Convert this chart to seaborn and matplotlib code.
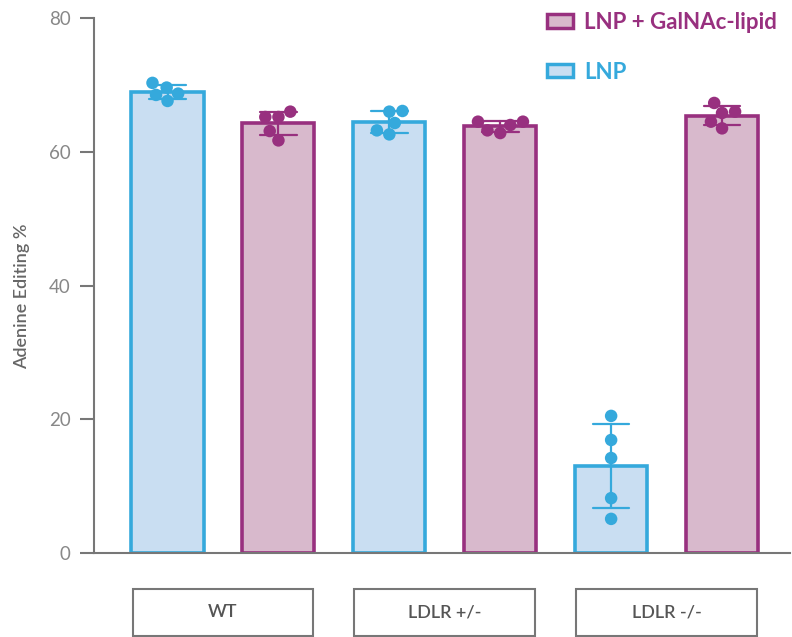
import pandas as pd
import matplotlib.pyplot as plt
import seaborn as sns
from matplotlib.patches import Patch, Rectangle

# значення (по 5 мишей у кожній групі)
genotypes = ['WT', 'LDLR +/-', 'LDLR -/-']
treatments = ['LNP', 'LNP + GalNAc-lipid']
wt_lnp = [70.3, 67.6, 69.6, 68.5, 68.7]
wt_gal = [65.2, 66.0, 61.7, 63.1, 65.2]
het_lnp = [66.1, 66.0, 64.3, 62.6, 63.2]
het_gal = [63.2, 64.5, 64.0, 64.5, 62.8]
ko_lnp = [20.5, 16.9, 14.2, 8.2, 5.1]
ko_gal = [67.3, 66.0, 63.5, 64.5, 65.8]

edge_colors = {'LNP': '#35a9dc', 'LNP + GalNAc-lipid': '#98307f'}
fill_colors = {'LNP': '#c9def2', 'LNP + GalNAc-lipid': '#d8b9cc'}

# збираємо таблицю
series = [wt_lnp, wt_gal, het_lnp, het_gal, ko_lnp, ko_gal]
rows = []
order = []
for i, vals in enumerate(series):
    geno = genotypes[i // 2]
    treat = treatments[i % 2]
    key = geno + ' | ' + treat
    order.append(key)
    for v in vals:
        rows.append({'pos': key, 'group': treat, 'val': v})
df = pd.DataFrame(rows)

sns.set_style('ticks')
plt.rcParams['font.family'] = ['Lato', 'DejaVu Sans']

fig = plt.figure(figsize=(7.92, 6.37), dpi=100)
ax = fig.add_axes([0.1187, 0.1319, 0.8788, 0.8398])

# стовпчики з похибкою (SD) для кожної обробки окремо
for treat in treatments:
    sub = df[df['group'] == treat]
    sns.barplot(data=sub, x='pos', y='val', order=order, color=fill_colors[treat],
                saturation=1, edgecolor=edge_colors[treat], linewidth=2.6, width=0.65,
                errorbar='sd', capsize=0.33,
                err_kws={'color': edge_colors[treat], 'linewidth': 1.6, 'zorder': 4},
                ax=ax)

# окремі точки
sns.swarmplot(data=df, x='pos', y='val', order=order, hue='group', palette=edge_colors,
              size=9, legend=False, ax=ax, zorder=5)

ax.set_ylim(0, 80)
ax.set_xlim(-0.663, 5.613)
ax.set_yticks([0, 20, 40, 60, 80])
ax.set_xticks([])
ax.set_xlabel('')
ax.set_ylabel('Adenine Editing %', fontsize=13, color='#666666', fontweight='semibold')
ax.yaxis.set_label_coords(-0.092, 0.48)
ax.tick_params(axis='y', length=10, width=1.5, color='#777777', labelcolor='#888888',
               labelsize=13.5, pad=7)
for s in ['top', 'right']:
    ax.spines[s].set_visible(False)
for s in ['left', 'bottom']:
    ax.spines[s].set_color('#777777')
    ax.spines[s].set_linewidth(1.5)

# підписи генотипів у рамках під віссю
for i, g in enumerate(genotypes):
    ax.add_patch(Rectangle((2 * i - 0.315, -12.4), 1.63, 7.0, fill=False,
                           edgecolor='#777777', linewidth=1.5, clip_on=False))
    ax.text(2 * i + 0.5, -8.9, g, ha='center', va='center', color='#555555',
            fontsize=13, fontweight='semibold', clip_on=False)

# легенда
handles = [Patch(facecolor=fill_colors[t], edgecolor=edge_colors[t], linewidth=2.5)
           for t in treatments[::-1]]
fig.legend(handles, treatments[::-1], loc='upper left', bbox_to_anchor=(0.665, 1.013),
           frameon=False, labelcolor=[edge_colors[t] for t in treatments[::-1]],
           prop={'size': 16, 'weight': 'bold'}, handlelength=1.2, handleheight=0.55,
           labelspacing=1.3, handletextpad=0.5)

plt.savefig('out.png', dpi=100)
